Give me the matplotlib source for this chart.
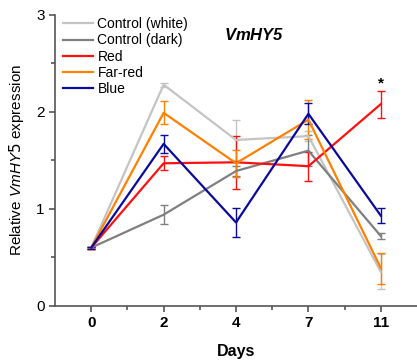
import matplotlib
matplotlib.use("Agg")
import matplotlib.pyplot as plt
from matplotlib.lines import Line2D
import numpy as np

plt.rcParams['font.family'] = ['Liberation Sans', 'DejaVu Sans']
plt.rcParams['mathtext.fontset'] = 'custom'
plt.rcParams['mathtext.it'] = 'Liberation Sans:italic'
plt.rcParams['mathtext.bf'] = 'Liberation Sans:bold:italic'

days = ["0", "2", "4", "7", "11"]

series_names = ["Control (white)", "Control (dark)", "Red", "Far-red", "Blue"]
series_colors = ["#c4c4c4", "#7f7f7f", "#ff1010", "#ff8000", "#0a0a9c"]

white_mean = [0.60, 2.28, 1.71, 1.75, 0.35]
white_err = [0.01, 0.02, 0.21, 0.05, 0.18]
dark_mean = [0.60, 0.94, 1.39, 1.60, 0.72]
dark_err = [0.01, 0.10, 0.05, 0.16, 0.03]
red_mean = [0.60, 1.47, 1.48, 1.44, 2.08]
red_err = [0.01, 0.07, 0.27, 0.15, 0.14]
farred_mean = [0.60, 1.99, 1.47, 1.92, 0.39]
farred_err = [0.01, 0.12, 0.14, 0.20, 0.16]
blue_mean = [0.60, 1.67, 0.86, 1.98, 0.93]
blue_err = [0.01, 0.09, 0.15, 0.11, 0.08]

means = [white_mean, dark_mean, red_mean, farred_mean, blue_mean]
errs = [white_err, dark_err, red_err, farred_err, blue_err]

fig = plt.figure(figsize=(4.17, 3.62), dpi=100)
ax = fig.add_axes([0.132, 0.155, 0.868, 0.804])

x = np.arange(len(days))
handles = []
for name, col, m, e in zip(series_names, series_colors, means, errs):
    ax.errorbar(x, m, yerr=e, color=col, lw=1.6, elinewidth=1.0,
                capsize=3, capthick=1.0)
    handles.append(Line2D([], [], color=col, lw=1.6, label=name))

# significance mark above the red value on day 11
ax.text(x[-1], red_mean[-1] + red_err[-1] + 0.0, "*", ha="center",
        va="bottom", fontsize=11, fontweight="bold")

ax.set_xlim(-0.5, 4.5)
ax.set_ylim(0, 3)
ax.set_xticks(x)
ax.set_xticklabels(days, fontweight="bold", fontsize=11)
ax.set_xticks(x[:-1] + 0.5, minor=True)
ax.set_yticks([0, 1, 2, 3])
ax.set_yticks([0.5, 1.5, 2.5], minor=True)
ax.tick_params(axis="y", labelsize=11)
for s in ["top", "right"]:
    ax.spines[s].set_visible(False)
for s in ["left", "bottom"]:
    ax.spines[s].set_color("#555555")
    ax.spines[s].set_linewidth(1.2)
ax.tick_params(which="both", direction="out", color="#555555", width=1.2)
ax.tick_params(which="major", length=4)
ax.tick_params(which="minor", length=3)

ax.set_xlabel("Days", fontweight="bold", fontsize=11.5, labelpad=10)
ax.set_ylabel(r"Relative $\mathit{VmHY5}$ expression", fontsize=11,
              labelpad=7)

ax.text(0.55, 0.93, r"$\mathbf{VmHY5}$", transform=ax.transAxes,
        ha="center", va="center", fontsize=12)

ax.legend(handles=handles, loc="upper left", bbox_to_anchor=(-0.002, 1.02),
          frameon=False, fontsize=10, handlelength=2.2, handletextpad=0.3,
          labelspacing=0.15, borderaxespad=0.2)

fig.savefig("out.png", dpi=100)
